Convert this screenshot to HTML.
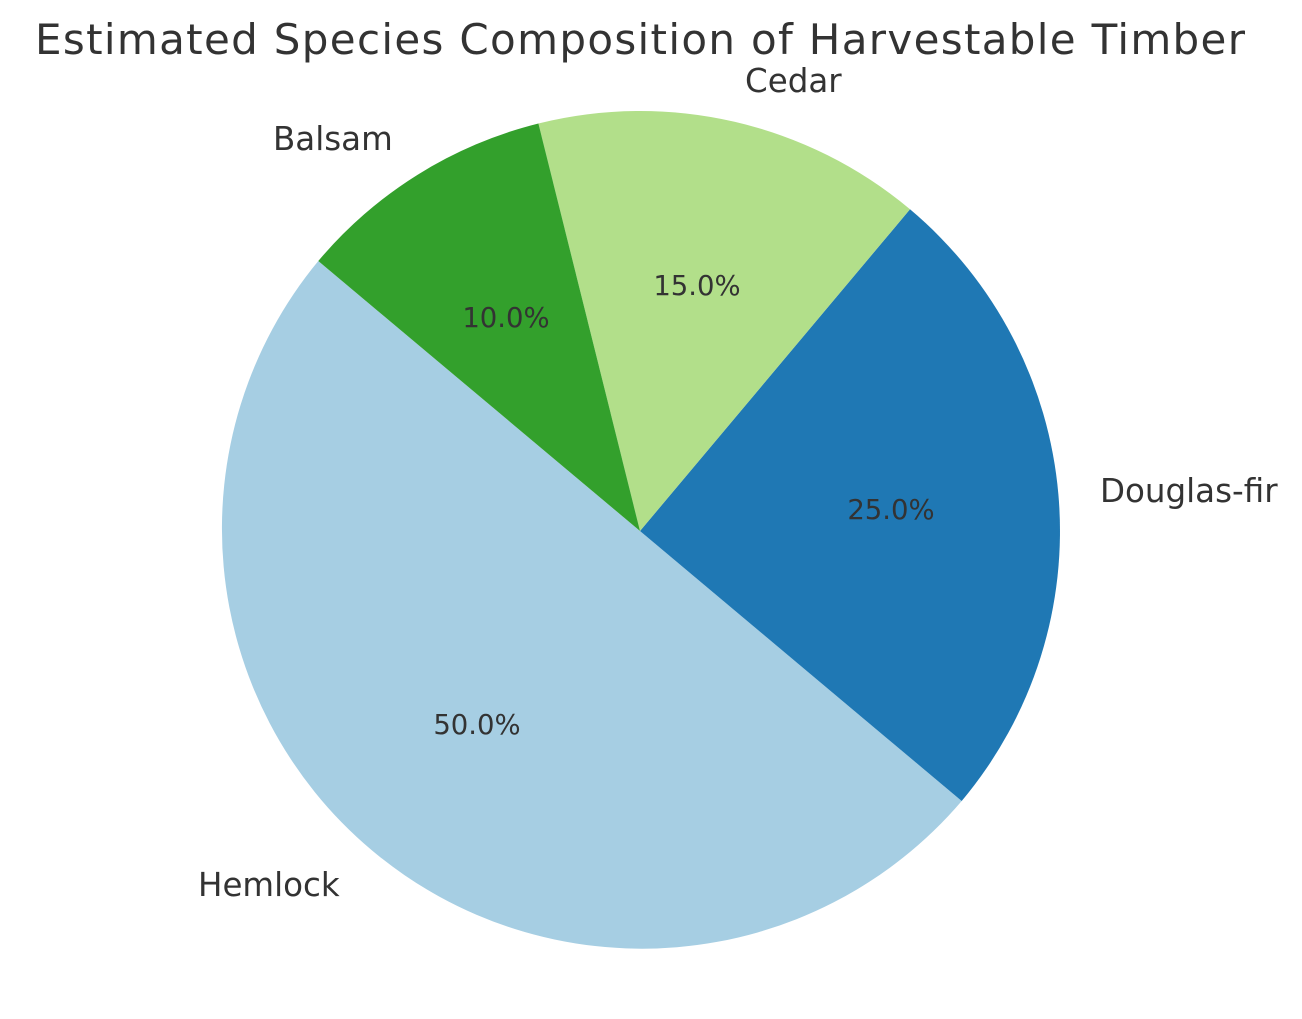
<!DOCTYPE html>
<html><head><meta charset="utf-8"><style>body{margin:0;background:#fff}</style></head>
<body>
<svg width="1302" height="1014" xmlns="http://www.w3.org/2000/svg" font-family="DejaVu Sans, Liberation Sans, sans-serif" fill="#333">
<rect width="1302" height="1014" fill="#fff"/>
<text x="640" y="54" font-size="42" text-anchor="middle" textLength="1210" fill="#333">Estimated Species Composition of Harvestable Timber</text>
<path d="M640,531 L318.3,261 A420,420 0 0 0 961.7,801 Z" fill="#a6cee3"/>
<path d="M640,531 L961.7,801 A420,420 0 0 0 910,209.3 Z" fill="#1f78b4"/>
<path d="M640,531 L910,209.3 A420,420 0 0 0 538.4,123.5 Z" fill="#b2df8a"/>
<path d="M640,531 L538.4,123.5 A420,420 0 0 0 318.3,261 Z" fill="#33a02c"/>
<g font-size="32.5">
<text x="198" y="896">Hemlock</text>
<text x="1100" y="502">Douglas-fir</text>
<text x="745" y="92">Cedar</text>
<text x="273" y="150">Balsam</text>
</g>
<g font-size="27.5" text-anchor="middle">
<text x="477" y="734">50.0%</text>
<text x="891" y="519">25.0%</text>
<text x="697" y="295">15.0%</text>
<text x="506" y="327">10.0%</text>
</g>
</svg>
</body></html>
